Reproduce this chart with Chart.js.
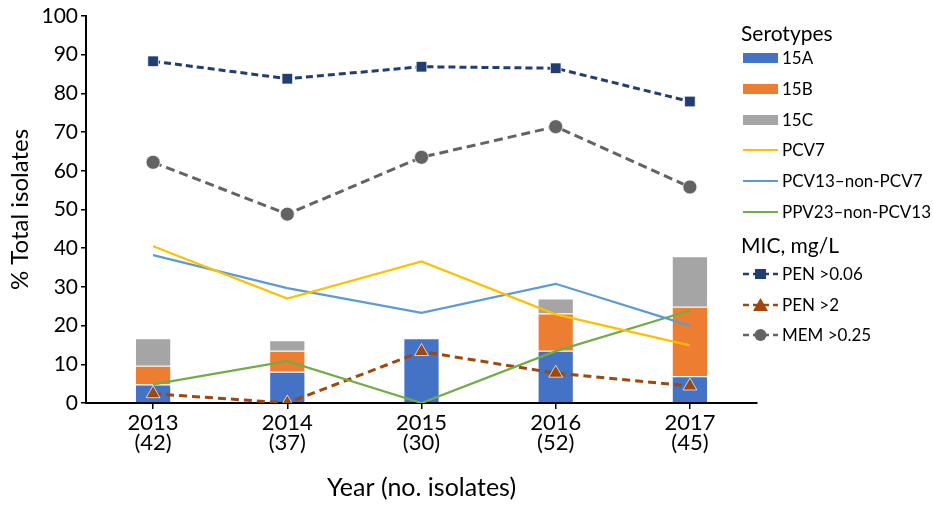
<!DOCTYPE html>
<html>
<head>
<meta charset="utf-8">
<script src="https://cdn.jsdelivr.net/npm/chart.js@4/dist/chart.umd.min.js"></script>
<style>
  body { margin: 0; background: #fff; font-family: Lato, "Open Sans", sans-serif; }
  #wrap { position: relative; width: 933px; height: 508px; }
  #legend { position: absolute; left: 743px; top: 0; width: 190px; height: 360px; color: #000; }
  .grp { position: absolute; left: -2px; font-size: 21px; line-height: 26px; transform: translateY(-50%); }
  .item { position: absolute; left: 0; display: flex; align-items: center; font-size: 17px; line-height: 20px; transform: translateY(-50%); white-space: nowrap; }
  .sw { width: 35px; margin-right: 4px; display: flex; align-items: center; }
</style>
</head>
<body>
<div id="wrap">
  <canvas id="c" width="933" height="508"></canvas>
  <div id="legend"></div>
</div>
<script>
var years = ["2013", "2014", "2015", "2016", "2017"];
var isolates = ["(42)", "(37)", "(30)", "(52)", "(45)"];
var yTicks = [0, 10, 20, 30, 40, 50, 60, 70, 80, 90, 100];

// serotype bars (% of isolates)
var s15A = [4.8, 8.1, 16.7, 13.5, 6.9];
var s15B = [4.8, 5.4, 0, 9.6, 18.0];
var s15C = [7.1, 2.7, 0, 3.9, 13.0];

// vaccine group lines
var pcv7 = [40.5, 27.0, 36.6, 22.9, 14.9];
var pcv13 = [38.2, 29.7, 23.3, 30.8, 20.0];
var ppv23 = [4.8, 10.8, 0, 13.4, 23.9];

// MIC lines
var pen006 = [88.3, 83.8, 86.9, 86.5, 77.9];
var pen2 = [2.4, 0, 13.3, 7.7, 4.4];
var mem025 = [62.2, 48.8, 63.5, 71.4, 55.8];

var labels = years.map(function (y, i) { return [y, isolates[i]]; });

function bar(label, data, color) {
  return { type: 'bar', label: label, data: data, backgroundColor: color,
    borderColor: 'rgba(255,255,255,0.6)', borderWidth: 1, stack: 'sero', order: 2,
    barPercentage: 0.27, categoryPercentage: 1 };
}
function line(label, data, color, dash, marker, size) {
  return { type: 'line', label: label, data: data, borderColor: color, backgroundColor: color,
    borderWidth: dash ? 3 : 2.2, borderDash: dash || [], pointStyle: marker || false,
    pointRadius: marker ? size : 0, pointBorderColor: 'rgba(255,255,255,0.7)', pointBorderWidth: 1,
    tension: 0, fill: false, stack: label, order: 1 };
}

var datasets = [
  bar('15A', s15A, '#4472C4'),
  bar('15B', s15B, '#ED7D31'),
  bar('15C', s15C, '#A5A5A5'),
  line('PCV7', pcv7, '#FFC000'),
  line('PCV13\u2013non-PCV7', pcv13, '#5B9BD5'),
  line('PPV23\u2013non-PCV13', ppv23, '#70AD47'),
  line('PEN >0.06', pen006, '#203D74', [7, 4], 'rect', 7.5),
  line('PEN >2', pen2, '#9E480E', [8, 5], 'triangle', 8),
  line('MEM >0.25', mem025, '#636363', [9, 5], 'circle', 7)
];

new Chart(document.getElementById('c'), {
  data: { labels: labels, datasets: datasets },
  options: {
    responsive: false,
    animation: false,
    layout: { padding: { left: 0, right: 176, top: 16, bottom: 0 } },
    plugins: { legend: { display: false }, tooltip: { enabled: false } },
    scales: {
      x: {
        stacked: true,
        grid: { display: true, drawOnChartArea: false, offset: false, color: '#000', tickLength: 6, lineWidth: 1.5 },
        border: { color: '#000', width: 2 },
        ticks: { color: '#000', font: { family: 'Lato', size: 22, lineHeight: 0.95 }, padding: 3, maxRotation: 0 },
        title: { display: true, text: 'Year (no. isolates)', color: '#000', font: { family: 'Lato', size: 25 }, padding: { top: 0, bottom: 5 } },
        afterFit: function (s) { s.height = 105; }
      },
      y: {
        stacked: true,
        min: 0, max: 100,
        afterBuildTicks: function (s) { s.ticks = yTicks.map(function (v) { return { value: v }; }); },
        grid: { display: true, drawOnChartArea: false, color: '#000', tickLength: 5, lineWidth: 1.5 },
        border: { color: '#000', width: 2 },
        ticks: { color: '#000', font: { family: 'Lato', size: 21 }, padding: 3 },
        title: { display: true, text: '% Total isolates', color: '#000', font: { family: 'Lato', size: 24 }, padding: { top: 6, bottom: 4 } },
        afterFit: function (s) { s.width = 86; }
      }
    }
  }
});

// legend built from the same datasets
var groups = [
  { title: 'Serotypes', titleY: 33, firstY: 58, step: 30.8, items: datasets.slice(0, 6) },
  { title: 'MIC, mg/L', titleY: 245, firstY: 274, step: 30.7, items: datasets.slice(6) }
];
var lg = document.getElementById('legend');
groups.forEach(function (g) {
  var t = document.createElement('div');
  t.className = 'grp';
  t.style.top = g.titleY + 'px';
  t.textContent = g.title;
  lg.appendChild(t);
  g.items.forEach(function (d, i) {
    var row = document.createElement('div');
    row.className = 'item';
    row.style.top = (g.firstY + g.step * i) + 'px';
    var sw = document.createElement('span');
    sw.className = 'sw';
    var c = document.createElement('canvas');
    c.width = 35; c.height = 16;
    var x = c.getContext('2d');
    if (d.type === 'bar') {
      x.fillStyle = d.backgroundColor;
      x.fillRect(0, 3, 35, 10);
    } else {
      x.strokeStyle = d.borderColor;
      x.lineWidth = d.borderDash.length ? 2.5 : 2.2;
      x.setLineDash(d.borderDash.length ? [6, 4] : []);
      x.beginPath(); x.moveTo(0, 8); x.lineTo(35, 8); x.stroke();
      x.fillStyle = d.borderColor;
      if (d.pointStyle === 'rect') x.fillRect(12, 3, 11, 10);
      if (d.pointStyle === 'triangle') { x.beginPath(); x.moveTo(17.5, 1); x.lineTo(25, 14); x.lineTo(10, 14); x.fill(); }
      if (d.pointStyle === 'circle') { x.beginPath(); x.arc(17.5, 8, 6, 0, Math.PI * 2); x.fill(); }
    }
    sw.appendChild(c);
    row.appendChild(sw);
    var tx = document.createElement('span');
    tx.textContent = d.label;
    row.appendChild(tx);
    lg.appendChild(row);
  });
});
</script>
</body>
</html>
